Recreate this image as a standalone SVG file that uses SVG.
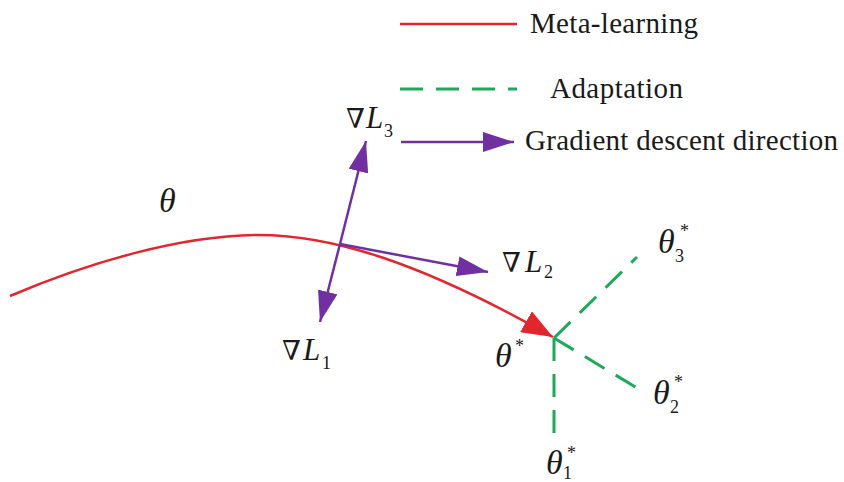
<svg xmlns="http://www.w3.org/2000/svg" width="844" height="482" viewBox="0 0 844 482">
<style>
.red{fill:none;stroke:#e3262d;stroke-width:2.5}
.pur{fill:none;stroke:#7030a0;stroke-width:2.5}
.grn{fill:none;stroke:#1fa85a;stroke-width:3;stroke-dasharray:23 13}
.t{font-family:"Liberation Serif","DejaVu Serif",serif;fill:#1a1a1a}
.lg{font-size:29px}
.m{font-size:31px;font-style:italic}
.th{font-size:34px;font-style:italic}
.nab{font-size:27px;font-style:normal;font-family:"DejaVu Serif","Liberation Serif",serif}
.s{font-size:18px;font-style:normal}
</style>
<defs>
<marker id="ap" markerUnits="userSpaceOnUse" markerWidth="31" markerHeight="20" refX="31" refY="10" orient="auto"><path d="M0,0 L31,10 L0,20 z" fill="#7030a0"/></marker>
<marker id="ar" markerUnits="userSpaceOnUse" markerWidth="31" markerHeight="24" refX="31" refY="12" orient="auto"><path d="M0,0 L31,12 L0,24 z" fill="#e3262d"/></marker>
</defs>
<g id="legend">
<line class="red" x1="400" y1="24" x2="517" y2="24"/>
<text class="t lg" x="530" y="33" textLength="168">Meta-learning</text>
<line class="grn" x1="400" y1="89" x2="517" y2="89"/>
<text class="t lg" x="550" y="98" textLength="133">Adaptation</text>
<text class="t lg" x="525" y="150" textLength="313">Gradient descent direction</text>
</g>
<g id="connectors">
<path class="red" d="M10,296 C90,262 180,236 255,235 C330,234 420,262 553,337" marker-end="url(#ar)"/>
<line class="pur" x1="340" y1="244" x2="366" y2="141" marker-end="url(#ap)"/>
<line class="pur" x1="340" y1="244" x2="320" y2="322" marker-end="url(#ap)"/>
<line class="pur" x1="340" y1="244" x2="488" y2="272" marker-end="url(#ap)"/>
<line class="pur" x1="401" y1="142" x2="514" y2="142" marker-end="url(#ap)"/>
<line class="grn" x1="554" y1="338" x2="637" y2="257"/>
<line class="grn" x1="554" y1="338" x2="637" y2="388"/>
<line class="grn" x1="554" y1="338" x2="554" y2="435"/>
</g>
<g id="theta"><text class="t th" x="159" y="212">θ</text></g>
<g id="gradL3"><text class="t m"><tspan class="nab" x="346" y="128">∇</tspan><tspan x="366" y="128">L</tspan><tspan class="s" x="384" y="137">3</tspan></text></g>
<g id="gradL2"><text class="t m"><tspan class="nab" x="502" y="272">∇</tspan><tspan x="525" y="272">L</tspan><tspan class="s" x="544" y="278">2</tspan></text></g>
<g id="gradL1"><text class="t m"><tspan class="nab" x="282" y="360">∇</tspan><tspan x="303" y="360">L</tspan><tspan class="s" x="322" y="369">1</tspan></text></g>
<g id="thetaStar"><text class="t th"><tspan x="495" y="367">θ</tspan><tspan class="s" x="515" y="352">*</tspan></text></g>
<g id="theta3"><text class="t th"><tspan x="658" y="253">θ</tspan><tspan class="s" x="675" y="262">3</tspan><tspan class="s" x="680" y="237">*</tspan></text></g>
<g id="theta2"><text class="t th"><tspan x="653" y="404">θ</tspan><tspan class="s" x="670" y="413">2</tspan><tspan class="s" x="674" y="388">*</tspan></text></g>
<g id="theta1"><text class="t th"><tspan x="546" y="474">θ</tspan><tspan class="s" x="563" y="479">1</tspan><tspan class="s" x="567" y="459">*</tspan></text></g>
</svg>
